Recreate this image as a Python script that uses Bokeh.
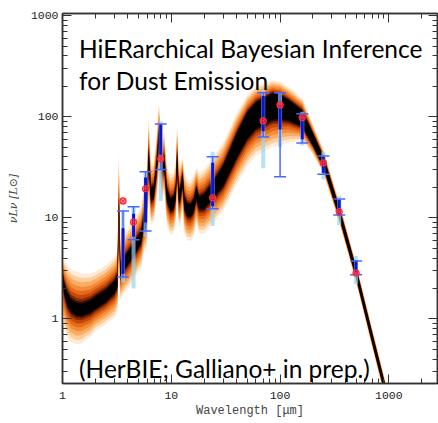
import numpy as np
from bokeh.plotting import figure
from bokeh.models import LogAxis, FixedTicker, CustomJSTickFormatter, Label, Range1d
from bokeh.embed import file_html
from bokeh.resources import INLINE

# ---- posterior band (median curve, halo spread and core spread in dex) ----
band_lam = [1.00, 1.04, 1.10, 1.20, 1.35, 1.50, 1.80, 2.00, 2.50, 3.00, 3.20, 3.30, 3.40, 3.60,
            4.00, 4.50, 5.00, 5.30, 5.60, 5.90, 6.20, 6.50, 6.90, 7.30, 7.70, 8.20, 8.60, 9.10,
            9.80, 10.5, 11.0, 11.3, 11.7, 12.0, 12.7, 13.2, 14.0, 15.0, 16.0, 17.0, 18.0, 20.0,
            24.0, 30.0, 40.0, 50.0, 60.0, 70.0, 85.0, 100.0, 120.0, 160.0, 200.0, 250.0, 350.0,
            500.0, 700.0, 900.0, 1200.0, 2800.0]
band_med = [2.6, 2.0, 1.6, 1.35, 1.25, 1.23, 1.32, 1.44, 1.69, 2.05, 2.4, 13.0, 3.0, 3.4,
            4.0, 4.8, 5.8, 6.5, 9.5, 10.0, 40.0, 17.0, 18.0, 30.0, 62.0, 30.0, 36.0, 17.0,
            13.5, 14.0, 18.0, 38.0, 17.0, 16.5, 24.0, 14.0, 12.0, 11.8, 13.0, 17.5, 14.0, 14.5,
            18.5, 26.0, 52.0, 82.0, 103.0, 112.0, 126.0, 125.0, 116.0, 96.0, 60.0, 36.0, 11.3,
            2.85, 0.66, 0.225, 0.062, 0.0015]
band_up = [0.22, 0.28, 0.33, 0.36, 0.37, 0.36, 0.33, 0.31, 0.30, 0.30, 0.30, 0.55, 0.30, 0.30,
           0.30, 0.30, 0.30, 0.30, 0.32, 0.30, 0.40, 0.30, 0.30, 0.32, 0.35, 0.30, 0.30, 0.30,
           0.30, 0.30, 0.30, 0.35, 0.30, 0.30, 0.22, 0.30, 0.30, 0.30, 0.30, 0.26, 0.30, 0.32,
           0.33, 0.33, 0.32, 0.30, 0.29, 0.28, 0.26, 0.25, 0.23, 0.20, 0.15, 0.12, 0.10,
           0.09, 0.09, 0.09, 0.09, 0.09]
band_dn = [0.38, 0.40, 0.38, 0.36, 0.35, 0.33, 0.30, 0.28, 0.28, 0.30, 0.30, 0.60, 0.30, 0.30,
           0.30, 0.30, 0.30, 0.30, 0.32, 0.30, 0.40, 0.30, 0.30, 0.32, 0.35, 0.30, 0.30, 0.30,
           0.30, 0.30, 0.30, 0.35, 0.30, 0.30, 0.30, 0.30, 0.30, 0.30, 0.30, 0.30, 0.30, 0.32,
           0.33, 0.35, 0.38, 0.40, 0.40, 0.40, 0.40, 0.38, 0.32, 0.22, 0.15, 0.12, 0.10,
           0.09, 0.09, 0.09, 0.09, 0.09]
band_core = [0.05, 0.05, 0.06, 0.06, 0.06, 0.06, 0.06, 0.06, 0.06, 0.06, 0.06, 0.06, 0.06, 0.06,
             0.06, 0.06, 0.06, 0.06, 0.06, 0.06, 0.07, 0.06, 0.06, 0.06, 0.07, 0.06, 0.06, 0.06,
             0.06, 0.06, 0.06, 0.07, 0.06, 0.06, 0.06, 0.06, 0.06, 0.06, 0.06, 0.06, 0.06, 0.07,
             0.08, 0.10, 0.12, 0.13, 0.13, 0.13, 0.13, 0.12, 0.10, 0.08, 0.06, 0.05, 0.045,
             0.045, 0.045, 0.045, 0.045, 0.045]

# ---- photometric points ----
pt_lam = [3.6, 4.5, 5.8, 8.0, 24.0, 70.0, 100.0, 160.0, 250.0, 350.0, 500.0]
pt_obs = [14.7, 9.1, 19.4, 38.4, 15.8, 91.0, 131.0, 98.0, 35.0, 11.5, 2.85]
pt_lo = [2.6, 6.06, 7.4, 30.0, 12.3, 63.0, 25.5, 55.0, 27.0, 10.7, 2.73]
pt_hi = [11.7, 12.9, 28.6, 85.0, 40.2, 173.0, 173.0, 107.0, 41.0, 15.4, 3.75]
mod_lo = [2.8, 6.5, 9.0, 42.0, 13.0, 72.0, 75.0, 60.0, 28.0, 10.5, 2.7]
mod_hi = [7.9, 11.0, 25.0, 85.0, 35.0, 160.0, 131.0, 105.0, 40.0, 15.0, 3.8]
sp_lo = [2.3, 2.0, 6.5, 14.7, 8.3, 31.0, 50.0, 52.0, 24.0, 8.5, 2.2]
sp_hi = [12.0, 12.9, 29.0, 90.0, 45.0, 190.0, 175.0, 112.0, 45.0, 16.5, 4.2]

x_ticks = [1, 10, 100, 1000]
y_ticks = [1, 10, 100, 1000]

p = figure(width=438, height=423, x_axis_type="log", y_axis_type="log",
           x_range=Range1d(1, 2800), y_range=Range1d(0.23, 1050),
           output_backend="svg", toolbar_location=None,
           min_border_left=62, min_border_right=1, min_border_top=13, min_border_bottom=40)
p.background_fill_color = "white"
p.border_fill_color = "white"
p.xgrid.visible = False
p.ygrid.visible = False
p.outline_line_color = "#333333"
p.outline_line_width = 1.5

lam = np.array(band_lam)
med = np.array(band_med)
up = np.array(band_up)
dn = np.array(band_dn)
cw = np.array(band_core)

layers = [(1.00, "#FFEBD6"), (0.85, "#FDCD9C"), (0.70, "#F9AC62"), (0.55, "#F38C38"),
          (0.41, "#E66A1A"), (0.28, "#C4480A"), (0.16, "#862804"), (0.07, "#3A0C00"),
          (0.00, "#000000")]
for g, col in layers:
    hi = cw + g * (up - cw)
    lo = cw + g * (dn - cw)
    p.varea(x=lam, y1=med * 10 ** (-lo), y2=med * 10 ** hi, fill_color=col, fill_alpha=1.0)

# error bars
p.segment(x0=pt_lam, y0=sp_lo, x1=pt_lam, y1=sp_hi, line_color="#9AD4F4", line_width=4, line_alpha=0.7)
p.segment(x0=pt_lam, y0=pt_lo, x1=pt_lam, y1=pt_hi, line_color="#4A68FF", line_width=1.5)
p.segment(x0=pt_lam, y0=mod_lo, x1=pt_lam, y1=mod_hi, line_color="#0A14D8", line_width=3)
p.scatter(x=pt_lam + pt_lam, y=pt_lo + pt_hi, marker="dash", size=12, line_color="#4A68FF", line_width=1.5)
p.scatter(x=pt_lam, y=pt_obs, marker="circle", size=6, fill_color=None, line_color="#FF2A3A", line_width=1.2)
p.scatter(x=pt_lam, y=pt_obs, marker="asterisk", size=7, line_color="#FF2A3A", line_width=1.0)

x_minor = [k * 10 ** e for e in range(0, 4) for k in range(2, 10) if k * 10 ** e < 2800]
y_minor = [k * 10 ** e for e in range(-1, 3) for k in range(2, 10) if 0.23 < k * 10 ** e < 1050]
fmt = CustomJSTickFormatter(code="return String(Math.round(tick));")
blank = CustomJSTickFormatter(code="return '';")

def style(ax, labels=True):
    ax.axis_line_color = "#333333"
    ax.axis_line_width = 1.5
    ax.major_tick_line_color = "#333333"
    ax.minor_tick_line_color = "#333333"
    ax.major_tick_in = 9
    ax.major_tick_out = 0
    ax.minor_tick_in = 5
    ax.minor_tick_out = 0
    ax.major_label_text_font = "Liberation Mono"
    ax.major_label_text_font_size = "11.5px" if labels else "0px"
    ax.major_label_text_color = "#222222"
    ax.formatter = fmt if labels else blank

p.xaxis.ticker = FixedTicker(ticks=x_ticks, minor_ticks=x_minor)
p.yaxis.ticker = FixedTicker(ticks=y_ticks, minor_ticks=y_minor)
style(p.xaxis[0])
style(p.yaxis[0])
p.xaxis.major_label_standoff = 8
p.yaxis.major_label_standoff = 4
p.xaxis.axis_label = "Wavelength [μm]"
p.xaxis.axis_label_text_font = "Liberation Mono"
p.xaxis.axis_label_text_font_size = "12px"
p.xaxis.axis_label_text_font_style = "normal"
p.xaxis.axis_label_standoff = 2
p.yaxis.axis_label = "νLν [L⊙]"
p.yaxis.axis_label_text_font = "DejaVu Serif"
p.yaxis.axis_label_text_font_size = "11px"
p.yaxis.axis_label_text_font_style = "italic"
p.yaxis.axis_label_standoff = 8

top = LogAxis(ticker=FixedTicker(ticks=x_ticks, minor_ticks=x_minor))
style(top, labels=False)
top.major_label_standoff = 0
p.add_layout(top, "above")
right = LogAxis(ticker=FixedTicker(ticks=y_ticks, minor_ticks=y_minor))
style(right, labels=False)
right.major_label_standoff = 0
p.add_layout(right, "right")

for txt, yv in [("HiERarchical Bayesian Inference", 471), ("for Dust Emission", 227),
                ("(HerBIE; Galliano+ in prep.)", 0.32)]:
    p.add_layout(Label(x=1.42, y=yv, text=txt, text_font="Lato", text_font_size="24.5px",
                       text_color="black", text_baseline="alphabetic"))

open("out.html", "w").write(file_html(p, INLINE))
